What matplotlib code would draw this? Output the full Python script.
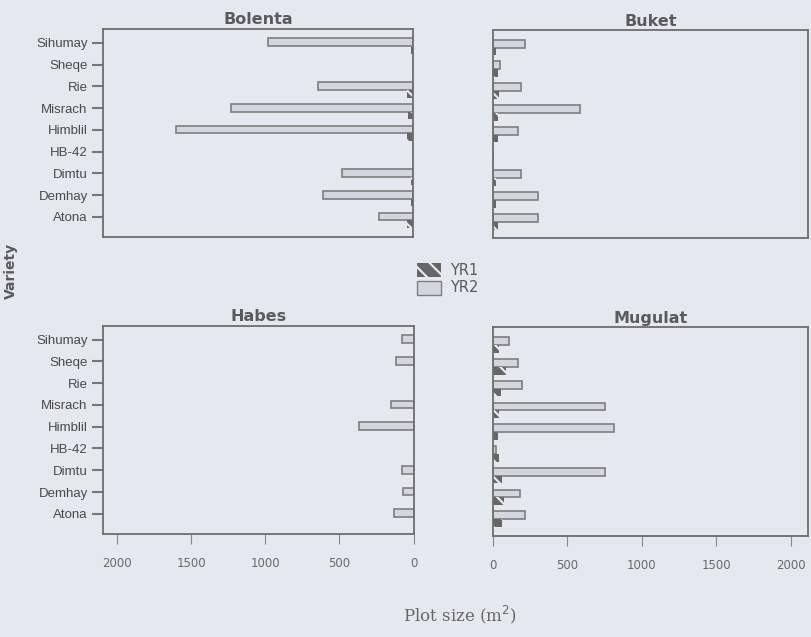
import numpy as np
import matplotlib.pyplot as plt
from matplotlib.patches import Patch

# varieties, bottom to top
varieties = ['Atona', 'Demhay', 'Dimtu', 'HB-42', 'Himblil', 'Misrach', 'Rie', 'Sheqe', 'Sihumay']

# plot size (m2) per site, same order as varieties
bolenta_yr1 = [40, 10, 10, 0, 40, 30, 40, 0, 10]
bolenta_yr2 = [230, 610, 480, 0, 1600, 1230, 640, 0, 980]
buket_yr1 = [30, 20, 20, 5, 30, 30, 40, 30, 20]
buket_yr2 = [305, 300, 190, 0, 165, 585, 190, 45, 215]
habes_yr1 = [0, 0, 0, 0, 0, 0, 0, 0, 0]
habes_yr2 = [135, 70, 75, 0, 370, 155, 0, 120, 80]
mugulat_yr1 = [60, 70, 60, 40, 30, 40, 50, 85, 40]
mugulat_yr2 = [215, 180, 750, 20, 810, 755, 195, 165, 110]

BG = '#e4e8ef'
TXT = '#5a5a5a'
LIGHT = '#d2d6de'
EDGE = '#7e7e7e'
DARK = '#666666'
HATCH = '#eeeeee'

plt.rcParams['hatch.linewidth'] = 1.5

fig = plt.figure(figsize=(8.11, 6.37), dpi=100, facecolor=BG)

panels = [
    ('Bolenta', bolenta_yr1, bolenta_yr2, [0.127, 0.628, 0.382, 0.327], True, True, False),
    ('Buket', buket_yr1, buket_yr2, [0.608, 0.626, 0.388, 0.327], False, False, False),
    ('Habes', habes_yr1, habes_yr2, [0.127, 0.162, 0.383, 0.327], True, True, True),
    ('Mugulat', mugulat_yr1, mugulat_yr2, [0.608, 0.159, 0.388, 0.327], False, False, True),
]

y = np.arange(len(varieties))
h = 0.36

for name, yr1, yr2, pos, left, ylabels, xlabels in panels:
    ax = fig.add_axes(pos)
    ax.set_facecolor(BG)
    ax.barh(y + 0.02, yr2, height=h, color=LIGHT, edgecolor=EDGE, linewidth=1.2)
    ax.barh(y - h + 0.02, yr1, height=h, color=DARK, edgecolor=HATCH, linewidth=0, hatch='\\\\')
    if left:
        ax.set_xlim(2095, 0)
    else:
        ax.set_xlim(0, 2115)
    ax.set_ylim(-0.92, 8.65)
    ax.set_title(name, fontsize=11.5, fontweight='bold', color=TXT, pad=3)
    for s in ax.spines.values():
        s.set_color('#6e6e6e')
        s.set_linewidth(1.3)
    ax.set_yticks(y)
    if ylabels:
        ax.set_yticklabels(varieties, fontsize=9.5, color='#4a4a4a', family='Liberation Sans')
        ax.tick_params(axis='y', length=8, width=1.5, color='#777777', pad=3)
    else:
        ax.tick_params(axis='y', left=False, labelleft=False)
    ax.set_xticks([0, 500, 1000, 1500, 2000])
    if xlabels:
        ax.set_xticklabels(['0', '500', '1000', '1500', '2000'], fontsize=8.5, color='#6a6a6a')
        ax.tick_params(axis='x', length=7, width=0.8, color='#888888', pad=10)
    else:
        ax.tick_params(axis='x', bottom=False, labelbottom=False)

handles = [Patch(facecolor=DARK, edgecolor=HATCH, linewidth=0, hatch='\\\\', label='YR1'),
           Patch(facecolor=LIGHT, edgecolor=EDGE, label='YR2')]
leg = fig.legend(handles=handles, loc='center', bbox_to_anchor=(0.552, 0.562),
                 frameon=False, fontsize=10.5, handlelength=1.6, handleheight=1.1,
                 labelspacing=0.2, handletextpad=0.6)
for t in leg.get_texts():
    t.set_color(TXT)

fig.text(0.014, 0.575, 'Variety', rotation=90, ha='center', va='center',
         fontsize=10, fontweight='bold', color=TXT)
fig.text(0.567, 0.035, 'Plot size (m$^2$)', ha='center', va='center',
         fontsize=12, color='#666666', family='DejaVu Serif')

fig.savefig('out.png', dpi=100, facecolor=BG)
